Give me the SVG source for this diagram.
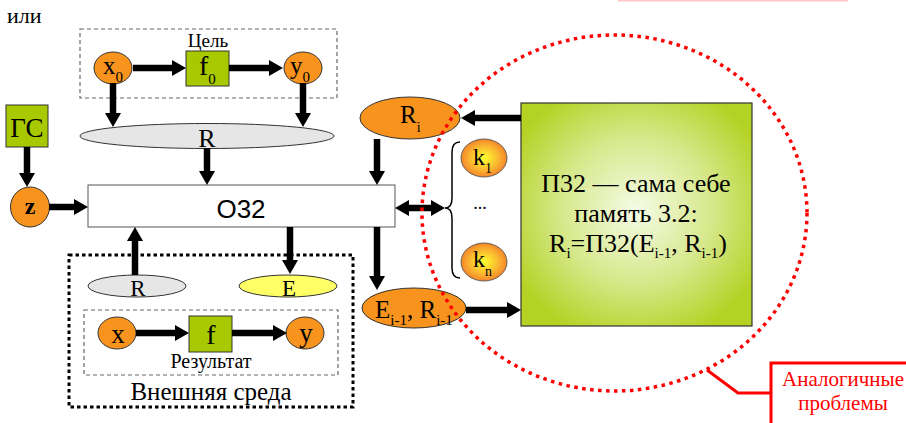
<svg xmlns="http://www.w3.org/2000/svg" width="906" height="423" viewBox="0 0 906 423">
<style>
.c{text-anchor:middle}
.or{fill:#f8941e;stroke:#333;stroke-width:1}
.gr{fill:#a8c800;stroke:#333;stroke-width:1}
.gy{fill:#e6e6e6;stroke:#333;stroke-width:1}
.dash{fill:none;stroke:#666;stroke-width:1.2;stroke-dasharray:4 3}
.conn line{stroke:#000;stroke-width:6.5;marker-end:url(#ah)}
.red{fill:none;stroke:#ff0000}
</style>
<defs>
<marker id="ah" viewBox="0 0 14 16" markerWidth="14" markerHeight="16" refX="4" refY="8" markerUnits="userSpaceOnUse" orient="auto-start-reverse">
<path d="M0,0 L14,8 L0,16 Z" fill="#000"/>
</marker>
<radialGradient id="kg" cx="50%" cy="50%" r="55%">
<stop offset="0" stop-color="#ffff30"/>
<stop offset="0.5" stop-color="#fbc030"/>
<stop offset="1" stop-color="#f27a2a"/>
</radialGradient>
<radialGradient id="pg" cx="50%" cy="48%" r="60%">
<stop offset="0" stop-color="#f6fbe6"/>
<stop offset="0.55" stop-color="#d6e88a"/>
<stop offset="1" stop-color="#b4d224"/>
</radialGradient>
</defs>
<g font-family="Liberation Serif, Times New Roman, serif" fill="#000">
<rect width="906" height="423" fill="#fff"/>
<rect x="618" y="0" width="230" height="1.5" fill="#ffc8c8"/>
<text x="7" y="23" font-size="22">или</text>

<g id="goal">
<rect class="dash" x="80" y="29" width="257" height="69"/>
<text class="c" x="208" y="47" font-size="19">Цель</text>
</g>
<g id="result">
<rect class="dash" x="84" y="310" width="254" height="65"/>
<text class="c" x="211" y="368" font-size="20">Результат</text>
</g>
<g id="env">
<rect x="69" y="255" width="284" height="152" fill="none" stroke="#000" stroke-width="3" stroke-dasharray="3.5 3"/>
<text class="c" x="211" y="400" font-size="25">Внешняя среда</text>
</g>

<g id="x0"><ellipse class="or" cx="113" cy="68" rx="19" ry="16"/><text x="103" y="74" font-size="25">x<tspan font-size="15" dy="8">0</tspan></text></g>
<g id="f0"><rect class="gr" x="186" y="51" width="43" height="35"/><text x="199" y="75" font-size="28">f<tspan font-size="15" dy="9">0</tspan></text></g>
<g id="y0"><ellipse class="or" cx="303" cy="68" rx="19" ry="16"/><text x="290" y="74" font-size="25">y<tspan font-size="15" dy="8">0</tspan></text></g>
<g id="R"><ellipse class="gy" cx="207" cy="136" rx="127" ry="12.5"/><text class="c" x="207" y="147" font-size="26">R</text></g>
<g id="GS"><rect class="gr" x="6" y="105" width="42" height="42"/><text class="c" x="27" y="137" font-size="27">ГС</text></g>
<g id="z"><ellipse class="or" cx="30" cy="207" rx="19.5" ry="20"/><text class="c" x="30" y="214" font-size="24" font-weight="bold">z</text></g>
<g id="O32"><rect x="88" y="185" width="307" height="42" fill="#fff" stroke="#555" stroke-width="1"/><text class="c" x="241" y="218" font-size="26" font-family="Liberation Sans, Arial, sans-serif">O32</text></g>
<g id="Rsmall"><ellipse class="gy" cx="137" cy="286" rx="49" ry="11"/><text class="c" x="138" y="296" font-size="23">R</text></g>
<g id="E"><ellipse cx="288" cy="286" rx="49" ry="11" fill="#ffff66" stroke="#333" stroke-width="1"/><text class="c" x="289" y="296" font-size="23">E</text></g>
<g id="x"><ellipse class="or" cx="117" cy="333" rx="19" ry="16"/><text class="c" x="118" y="343" font-size="27">x</text></g>
<g id="f"><rect class="gr" x="189" y="316" width="43" height="36"/><text class="c" x="211" y="344" font-size="28">f</text></g>
<g id="y"><ellipse class="or" cx="305" cy="333" rx="19" ry="16"/><text class="c" x="306" y="342" font-size="27">y</text></g>
<g id="Ri"><ellipse class="or" cx="410" cy="118" rx="50" ry="21"/><text x="400" y="123" font-size="25">R<tspan font-size="14" dy="9">i</tspan></text></g>
<g id="Ei1"><ellipse class="or" cx="414" cy="308" rx="52" ry="20"/><text x="375" y="318" font-size="25">E<tspan font-size="15" dy="7">i-1</tspan><tspan dy="-7">, R</tspan><tspan font-size="15" dy="7">i-1</tspan></text></g>
<g id="k1"><ellipse cx="484" cy="158" rx="23" ry="19" fill="url(#kg)" stroke="#444" stroke-width="0.8"/><text x="473" y="165" font-size="24">k<tspan font-size="14" dy="8">1</tspan></text></g>
<g id="kdots"><text class="c" x="480" y="209" font-size="18">...</text></g>
<g id="kn"><ellipse cx="484" cy="262" rx="23" ry="19" fill="url(#kg)" stroke="#444" stroke-width="0.8"/><text x="473" y="267" font-size="24">k<tspan font-size="14" dy="9">n</tspan></text></g>
<g id="brace"><path d="M460,142 Q452,142 452,152 L452,198 Q452,208 445,208 Q452,208 452,218 L452,268 Q452,278 460,278" fill="none" stroke="#000" stroke-width="1.5"/></g>
<g id="P32"><rect x="521" y="103" width="231" height="223" fill="url(#pg)" stroke="#333" stroke-width="1.2"/>
<text class="c" x="636" y="192" font-size="26">П32 — сама себе</text>
<text class="c" x="636" y="222" font-size="26">память 3.2:</text>
<text class="c" x="638" y="252" font-size="26">R<tspan font-size="15" dy="6">i</tspan><tspan dy="-6">=П32(E</tspan><tspan font-size="15" dy="6">i-1</tspan><tspan dy="-6">, R</tspan><tspan font-size="15" dy="6">i-1</tspan><tspan dy="-6">)</tspan></text>
</g>

<g class="conn" id="connectors">
<line x1="133" y1="68" x2="176" y2="68"/>
<line x1="229" y1="68" x2="273" y2="68"/>
<line x1="113" y1="83" x2="113" y2="117"/>
<line x1="303" y1="83" x2="303" y2="117"/>
<line x1="207" y1="148" x2="207" y2="175"/>
<line x1="27" y1="147" x2="27" y2="177"/>
<line x1="49" y1="207" x2="78" y2="207"/>
<line x1="377" y1="139" x2="377" y2="175"/>
<line x1="521" y1="118" x2="471" y2="118"/>
<line x1="405" y1="208" x2="435" y2="208" marker-start="url(#ah)"/>
<line x1="135" y1="275" x2="135" y2="237"/>
<line x1="290" y1="227" x2="290" y2="264"/>
<line x1="377" y1="227" x2="377" y2="280"/>
<line x1="466" y1="310" x2="511" y2="310"/>
<line x1="136" y1="333" x2="179" y2="333"/>
<line x1="232" y1="333" x2="277" y2="333"/>
</g>

<g id="analog">
<ellipse class="red" cx="614.5" cy="213" rx="192.5" ry="178" stroke-width="3.5" stroke-dasharray="3.5 4.5"/>
<polyline class="red" points="707,370 738,393 771,393" stroke-width="3"/>
<rect x="771" y="363" width="145" height="70" fill="#fff" stroke="#ff0000" stroke-width="3"/>
<text class="c" x="843" y="386" font-size="21" fill="#ff0000">Аналогичные</text>
<text class="c" x="843" y="410" font-size="21" fill="#ff0000">проблемы</text>
</g>
</g>
</svg>
